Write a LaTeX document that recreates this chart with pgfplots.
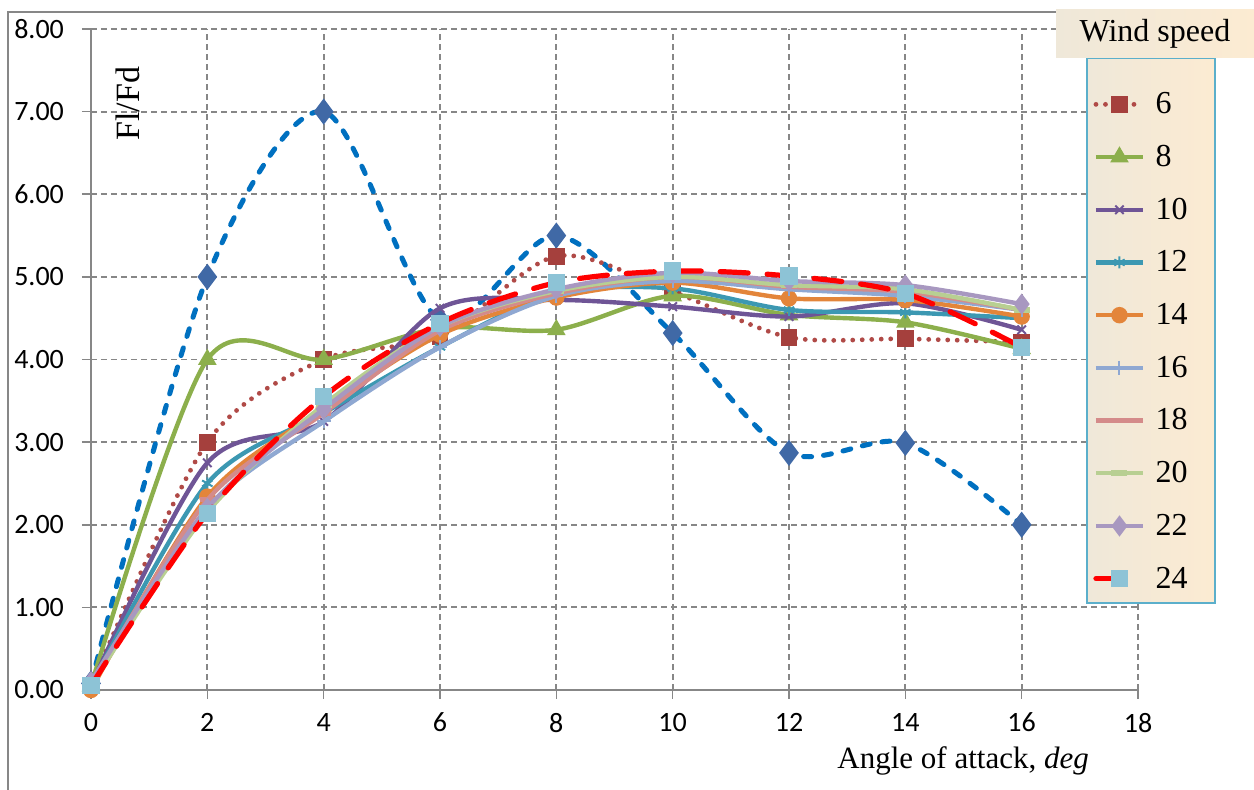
\documentclass[border=0pt]{standalone}
\usepackage{fontspec}
\setmainfont{Liberation Serif}
\newfontfamily\calibri{Carlito}
\usepackage{pgfplots}
\pgfplotsset{compat=1.18}

\definecolor{gridgray}{HTML}{878787}
\definecolor{c4line}{HTML}{0070C0}
\definecolor{c4mark}{HTML}{4069A6}
\definecolor{c6line}{HTML}{B04A47}
\definecolor{c6mark}{HTML}{A5403D}
\definecolor{c8}{HTML}{8CAF4C}
\definecolor{c10}{HTML}{6F5596}
\definecolor{c12}{HTML}{3C98B2}
\definecolor{c14}{HTML}{E3853A}
\definecolor{c16}{HTML}{8FA8D2}
\definecolor{c18}{HTML}{D48B8A}
\definecolor{c20}{HTML}{B8CF92}
\definecolor{c22}{HTML}{A898C0}
\definecolor{c24mark}{HTML}{8DC3D6}
\definecolor{legL}{HTML}{EFE8D9}
\definecolor{legR}{HTML}{FCEBD2}
\definecolor{legblue}{HTML}{5BAFCB}

\pgfplotsset{
  solidline/.style={smooth, line width=2.2pt},
}

\begin{document}
\begin{tikzpicture}
\begin{axis}[
  scale only axis, width=523.5pt, height=330.5pt,
  xmin=0, xmax=18, ymin=0, ymax=8,
  xtick={0,2,...,18}, ytick={0,1,...,8},
  axis x line*=bottom, axis y line*=left,
  xtick pos=bottom, ytick pos=left,
  axis line style={draw=gridgray, line width=0.8pt},
  grid=major,
  grid style={draw=gridgray, line width=0.9pt, dash pattern=on 3pt off 2pt},
  tick align=outside, major tick length=4.5pt,
  tick style={draw=gridgray, line width=0.8pt},
  tick label style={font=\calibri\fontsize{14}{16}\selectfont, black},
  /pgf/number format/assume math mode=true,
  yticklabel style={xshift=-5.5pt},
  yticklabel={\pgfmathprintnumber[fixed, fixed zerofill, precision=2]{\tick}},
  xticklabel style={yshift=-3.5pt},
  xlabel={Angle of attack, \textit{deg}},
  xlabel style={at={(axis description cs:0.833,-0.107)}, anchor=center,
    font=\fontsize{15.5}{18}\selectfont},
  ylabel={Fl/Fd},
  ylabel style={at={(axis description cs:0.035,0.887)}, anchor=center,
    font=\fontsize{17}{20}\selectfont},
  clip mode=individual,
  legend cell align=left,
  legend style={at={(rel axis cs:0.957,0.9008)}, anchor=north west,
    draw=none, fill=none, inner sep=0pt, row sep=16.95pt, column sep=5pt,
    font=\fontsize{16}{18}\selectfont,
    nodes={inner sep=0pt, text height=9.4pt, text depth=0pt}},
  legend image code/.code={
    \draw[mark repeat=2, mark phase=2] plot coordinates {(0pt,0pt) (11.75pt,0pt) (23.5pt,0pt)};},
]

% 4 m/s (not in the legend)
\addplot[forget plot, smooth, c4line, line width=2.5pt, line cap=round, dash pattern=on 4pt off 6pt,
  mark=diamond*, mark size=4.5pt, mark options={solid, fill=c4mark, draw=c4mark}]
  coordinates {(0,0.08) (2,5.00) (4,7.00) (6,4.48) (8,5.50) (10,4.32) (12,2.87) (14,2.99) (16,2.00)};

% 6
\addplot[smooth, c6line, line width=2.4pt, line cap=round, dash pattern=on 0pt off 4.75pt,
  mark=square*, mark size=3pt, mark options={solid, fill=c6mark, draw=c6mark}]
  coordinates {(0,0.05) (2,3.00) (4,4.00) (6,4.28) (8,5.25) (10,4.82) (12,4.27) (14,4.25) (16,4.21)};
\addlegendentry{6}

% 8
\addplot[solidline, c8, mark=triangle*, mark size=3.2pt, mark options={fill=c8}]
  coordinates {(0,0.05) (2,4.00) (4,4.00) (6,4.38) (8,4.36) (10,4.77) (12,4.54) (14,4.45) (16,4.13)};
\addlegendentry{8}

% 10
\addplot[solidline, c10, mark=x, mark size=3pt, mark options={line width=1pt}]
  coordinates {(0,0.05) (2,2.75) (4,3.25) (6,4.62) (8,4.72) (10,4.64) (12,4.52) (14,4.68) (16,4.36)};
\addlegendentry{10}

% 12
\addplot[solidline, c12, mark=asterisk, mark size=3pt, mark options={line width=1pt}]
  coordinates {(0,0.05) (2,2.50) (4,3.35) (6,4.15) (8,4.80) (10,4.86) (12,4.60) (14,4.57) (16,4.50)};
\addlegendentry{12}

% 14
\addplot[solidline, c14, mark=*, mark size=3pt, mark options={fill=c14}]
  coordinates {(0,0.00) (2,2.34) (4,3.40) (6,4.30) (8,4.75) (10,4.93) (12,4.74) (14,4.72) (16,4.52)};
\addlegendentry{14}

% 16
\addplot[solidline, c16, mark=+, mark size=3.5pt, mark options={line width=1pt}]
  coordinates {(0,0.05) (2,2.20) (4,3.25) (6,4.15) (8,4.77) (10,4.95) (12,4.85) (14,4.77) (16,4.60)};
\addlegendentry{16}

% 18
\addplot[solidline, c18, mark=-, mark size=3.5pt, mark options={line width=2.5pt}]
  coordinates {(0,0.05) (2,2.30) (4,3.35) (6,4.35) (8,4.80) (10,5.00) (12,4.88) (14,4.82) (16,4.60)};
\addlegendentry{18}

% 20
\addplot[solidline, c20, mark=-, mark size=4pt, mark options={line width=3pt}]
  coordinates {(0,0.05) (2,2.15) (4,3.45) (6,4.40) (8,4.83) (10,5.00) (12,4.90) (14,4.85) (16,4.60)};
\addlegendentry{20}

% 22
\addplot[solidline, c22, mark=diamond*, mark size=3.5pt, mark options={fill=c22}]
  coordinates {(0,0.10) (2,2.20) (4,3.40) (6,4.40) (8,4.85) (10,5.05) (12,4.95) (14,4.90) (16,4.67)};
\addlegendentry{22}

% 24
\addplot[smooth, red, line width=2.6pt, line cap=round, dash pattern=on 14pt off 9.5pt,
  mark=square*, mark size=3pt, mark options={solid, fill=c24mark, draw=c24mark}]
  coordinates {(0,0.05) (2,2.14) (4,3.55) (6,4.44) (8,4.93) (10,5.07) (12,5.01) (14,4.80) (16,4.15)};
\addlegendentry{24}

% legend background, above the grid and below the legend
\shade[left color=legL, right color=legR, draw=legblue, line width=0.8pt]
  (rel axis cs:0.9513,0.1316) rectangle (rel axis cs:1.0735,0.9561);
\end{axis}

% chart frame and legend title
\draw[gridgray, line width=0.8pt] (-41.5pt,-50pt) -- (-41.5pt,339pt) -- (482.5pt,339pt);
\node[left color=legL, right color=legR, minimum width=99pt, minimum height=24pt,
  inner sep=0pt, font=\fontsize{16}{18}\selectfont] at (532pt,328pt) {Wind speed};

\pgfresetboundingbox
\path (-45.5pt,-50pt) rectangle (581.5pt,345pt);
\end{tikzpicture}
\end{document}
